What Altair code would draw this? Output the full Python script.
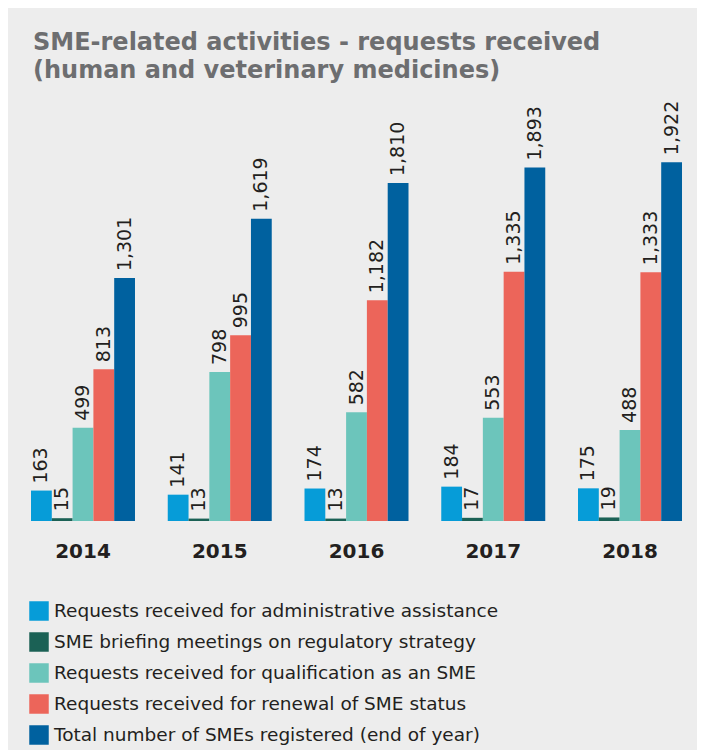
import altair as alt
import pandas as pd

years = ["2014", "2015", "2016", "2017", "2018"]
series = [
    "Requests received for administrative assistance",
    "SME briefing meetings on regulatory strategy",
    "Requests received for qualification as an SME",
    "Requests received for renewal of SME status",
    "Total number of SMEs registered (end of year)",
]
admin = [163, 141, 174, 184, 175]
briefing = [15, 13, 13, 17, 19]
qualification = [499, 798, 582, 553, 488]
renewal = [813, 995, 1182, 1335, 1333]
total = [1301, 1619, 1810, 1893, 1922]
colors = ["#069cd8", "#1b6155", "#6cc5bb", "#ec655a", "#00619f"]

rows = []
for i, yr in enumerate(years):
    for s, vals in zip(series, [admin, briefing, qualification, renewal, total]):
        rows.append({"year": yr, "series": s, "value": vals[i]})
df = pd.DataFrame(rows)

base = alt.Chart(df).encode(
    x=alt.X(
        "year:N",
        sort=years,
        scale=alt.Scale(paddingInner=0.2395, paddingOuter=0.0804),
        axis=alt.Axis(
            title=None, labelAngle=0, domain=False, ticks=False,
            labelFontSize=20, labelFontWeight="bold", labelColor="#231f20",
            labelFont="DejaVu Sans", labelPadding=20,
        ),
    ),
    xOffset=alt.XOffset("series:N", sort=series,
                        scale=alt.Scale(paddingInner=0, paddingOuter=0)),
    y=alt.Y("value:Q", scale=alt.Scale(domain=[0, 2255], nice=False), axis=None),
)

bars = base.mark_bar().encode(
    color=alt.Color(
        "series:N",
        sort=series,
        scale=alt.Scale(domain=series, range=colors),
        legend=alt.Legend(
            title=None, orient="none", legendX=9, legendY=501,
            direction="vertical", symbolType="square", symbolSize=380,
            symbolStrokeWidth=0, symbolOpacity=1, labelFontSize=18.5,
            labelFont="DejaVu Sans", labelColor="#231f20", labelLimit=0,
            rowPadding=11, padding=0, symbolOffset=0, labelOffset=5,
        ),
    )
)

labels = base.mark_text(
    angle=270, align="left", baseline="middle", dx=7,
    fontSize=19, font="DejaVu Sans", color="#231f20",
).encode(text=alt.Text("value:Q", format=",d"))

chart = (bars + labels).properties(
    width=673,
    height=421,
    autosize="none",
    padding={"left": 12, "top": 92, "right": 4, "bottom": 229},
    background="#ededed",
    title=alt.TitleParams(
        text=["SME-related activities - requests received",
              "(human and veterinary medicines)"],
        anchor="start", frame="group", orient="top",
        font="DejaVu Sans", fontSize=24, fontWeight="bold",
        color="#6d6e70", dx=13, offset=17, lineHeight=28,
    ),
).configure_view(stroke=None)

chart.save("out.html", embed_options={"renderer": "svg", "actions": False})
